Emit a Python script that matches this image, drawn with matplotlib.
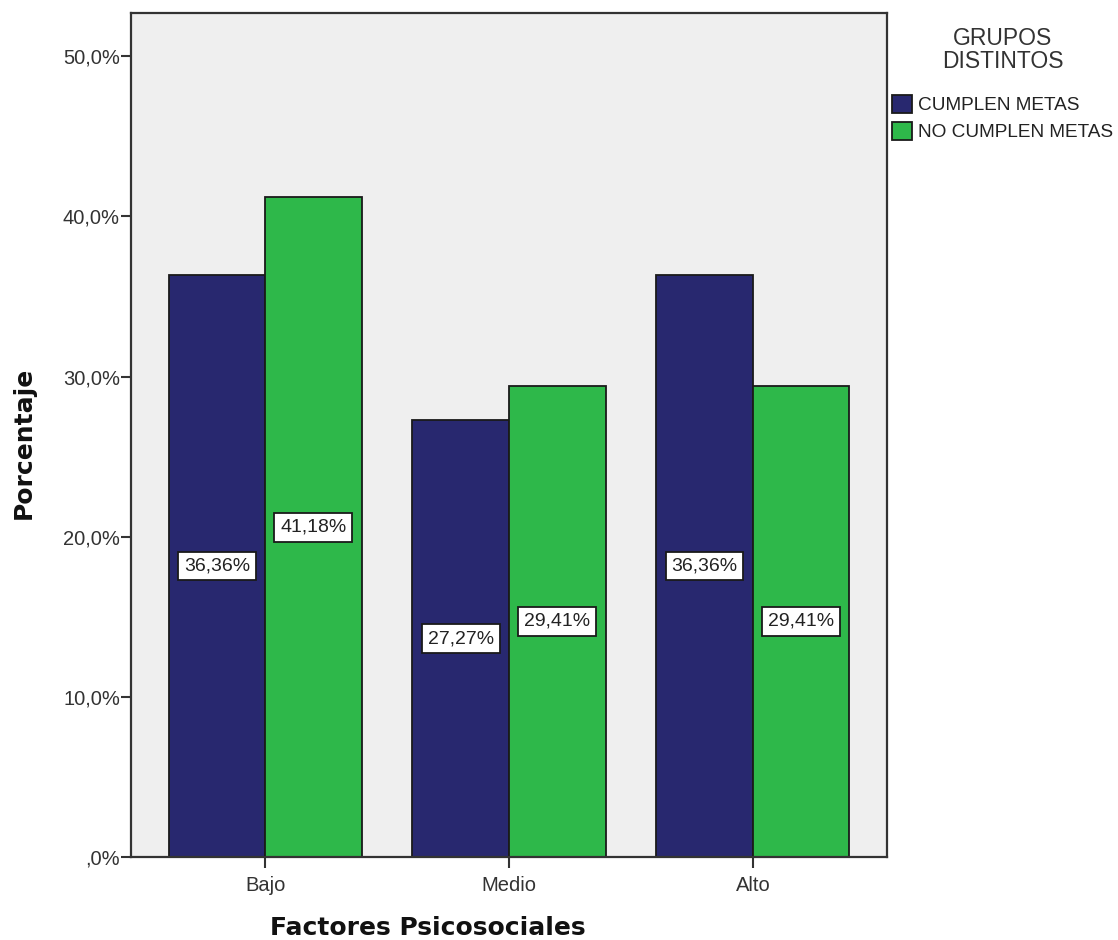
import matplotlib
matplotlib.use("Agg")
import matplotlib.pyplot as plt
from matplotlib.patches import Patch
import numpy as np

categories = ["Bajo", "Medio", "Alto"]
series_names = ["CUMPLEN METAS", "NO CUMPLEN METAS"]
cumplen = [36.36, 27.27, 36.36]
no_cumplen = [41.18, 29.41, 29.41]
yticks = [0, 10, 20, 30, 40, 50]
ytick_labels = [",0%", "10,0%", "20,0%", "30,0%", "40,0%", "50,0%"]
legend_title = "GRUPOS\nDISTINTOS"

colors = ["#28286F", "#2EB84A"]

plt.rcParams["font.family"] = ["Liberation Sans", "DejaVu Sans"]

W, H = 1118, 940
fig = plt.figure(figsize=(W / 100, H / 100), dpi=100)
ax = fig.add_axes([131 / W, (H - 857) / H, (887 - 131) / W, (857 - 13) / H])
ax.set_facecolor("#EFEFEF")

x = np.arange(len(categories))
w = 0.396
for i, (vals, col) in enumerate(zip([cumplen, no_cumplen], colors)):
    pos = x + (i - 0.5) * w
    ax.bar(pos, vals, width=w, color=col, edgecolor="#1a1a1a", linewidth=1.3, zorder=2)
    for px, v in zip(pos, vals):
        ax.text(px, v / 2, f"{v:.2f}%".replace(".", ","), ha="center", va="center",
                fontsize=14, color="#222222", zorder=3,
                bbox=dict(boxstyle="square,pad=0.3", facecolor="white",
                          edgecolor="#1a1a1a", linewidth=1.3))

ax.set_xlim(-0.55, 2.55)
ax.set_ylim(0, 52.7)
ax.set_yticks(yticks)
ax.set_yticklabels(ytick_labels)
ax.set_xticks(x)
ax.set_xticklabels(categories)
ax.tick_params(axis="both", direction="out", width=1.5, colors="#333333",
               labelsize=14.5, labelcolor="#333333")
ax.tick_params(axis="y", length=7, pad=1)
ax.tick_params(axis="x", length=8, pad=6)
for s in ax.spines.values():
    s.set_linewidth(1.6)
    s.set_color("#333333")

fig.text(428 / W, 1 - 928 / H, "Factores Psicosociales", ha="center", va="center",
         fontsize=18, fontweight="bold", family="DejaVu Sans", color="#111111")
fig.text(24 / W, 1 - 443 / H, "Porcentaje", ha="center", va="center", rotation=90,
         fontsize=18, fontweight="bold", family="DejaVu Sans", color="#111111")

# legend title drawn separately so the gap to the entries can be set freely
fig.text(1003 / W, 1 - 50 / H, legend_title, ha="center", va="center",
         fontsize=16.5, color="#333333", linespacing=1.0, multialignment="center")

handles = [Patch(facecolor=c, edgecolor="#1a1a1a", linewidth=1.3) for c in colors]
leg = fig.legend(handles, series_names,
                 loc="upper left", bbox_to_anchor=(892 / W, 1 - 95 / H), frameon=False,
                 fontsize=13.7, handlelength=1.05, handleheight=1.05,
                 handletextpad=0.3, labelspacing=0.4, borderpad=0, borderaxespad=0)
for t in leg.get_texts():
    t.set_color("#222222")

fig.savefig("out.png", dpi=100)
